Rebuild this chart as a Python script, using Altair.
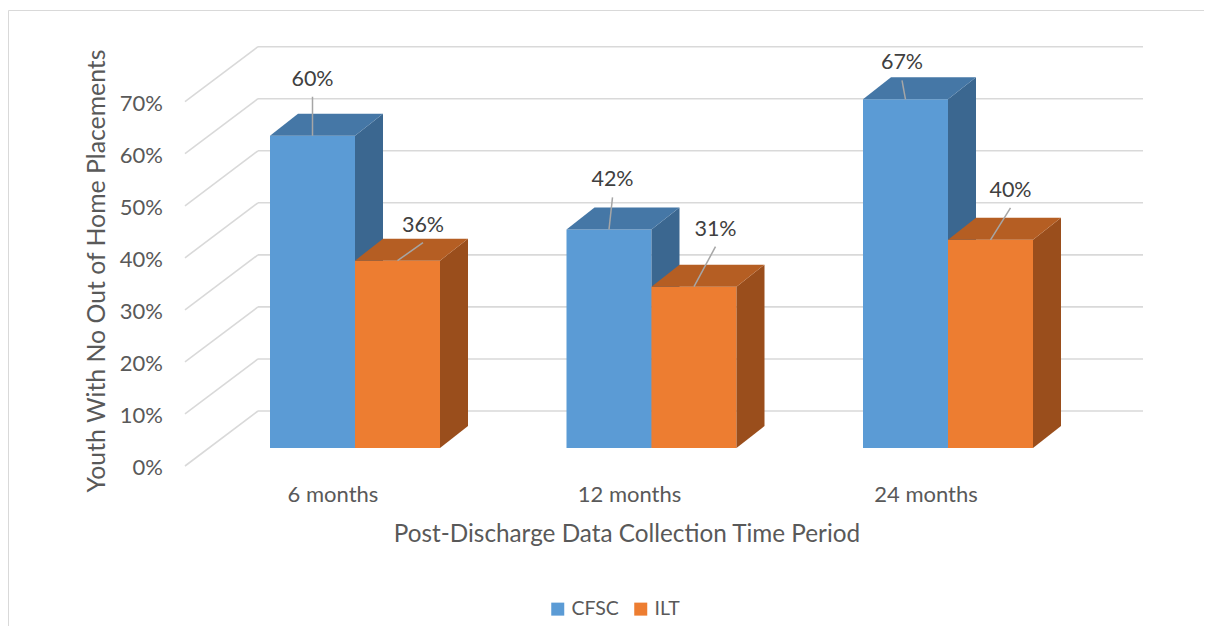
import altair as alt
import pandas as pd

# ---------------- data ----------------
categories = ["6 months", "12 months", "24 months"]
series = ["CFSC", "ILT"]
cfsc_values = [60, 42, 67]
ilt_values = [36, 31, 40]
y_ticks = [0, 10, 20, 30, 40, 50, 60, 70]
y_tick_labels = ["0%", "10%", "20%", "30%", "40%", "50%", "60%", "70%"]
x_title = "Post-Discharge Data Collection Time Period"
y_title = "Youth With No Out of Home Placements"

# ---------------- layout (pseudo-3D geometry) ----------------
W, H = 958, 420
PAD = {"left": 177, "top": 38, "right": 61, "bottom": 160}
PX_X = 296.5            # px per category step
Y_TOP = 80.7
PX_Y = H / Y_TOP        # px per percent
X0 = -170 / PX_X
X1 = X0 + W / PX_X
FLOOR_DX = 73 / PX_X
FLOOR_DY = 55 / PX_Y
BAR_Y0 = 18 / PX_Y
BAR_W = 85 / PX_X
BAR_DX = 28 / PX_X
BAR_DY = 22 / PX_Y
# label offsets in px (right, up) relative to top-front-centre of each bar
label_offsets = [(0, 56), (25.5, 35), (3.5, 49), (21.5, 57), (-3.5, 36), (20, 49)]

front_col = {"CFSC": "#5B9BD5", "ILT": "#ED7D31"}
top_col = {"CFSC": "#4577A6", "ILT": "#B55E23"}
side_col = {"CFSC": "#3B6790", "ILT": "#9A4E1C"}
GRID = "#D9D9D9"
TXT = "#595959"
FONT = "Lato"

xs = alt.Scale(domain=[X0, X1], nice=False, zero=False)
ys = alt.Scale(domain=[0, Y_TOP], nice=False, zero=False)

# ---------------- gridlines ----------------
grid_rows = []
for t in y_ticks:
    grid_rows.append({"x": X0, "x2": X0 + FLOOR_DX, "y": t, "y2": t + FLOOR_DY})
    grid_rows.append({"x": X0 + FLOOR_DX, "x2": X1, "y": t + FLOOR_DY, "y2": t + FLOOR_DY})
grid = alt.Chart(pd.DataFrame(grid_rows)).mark_rule(color=GRID, strokeWidth=1.6).encode(
    x=alt.X("x:Q", scale=xs, axis=None), x2="x2:Q",
    y=alt.Y("y:Q", scale=ys, axis=None), y2="y2:Q")

# ---------------- bars ----------------
values = {"CFSC": cfsc_values, "ILT": ilt_values}
layers = [grid]
label_rows = []
for si, s in enumerate(series):
    fronts, faces = [], []
    for i, cat in enumerate(categories):
        v = values[s][i]
        L = i - BAR_W if s == "CFSC" else i
        R = L + BAR_W
        y0 = BAR_Y0
        yt = y0 + v
        fronts.append({"x": L, "x2": R, "y": y0, "y2": yt, "series": s, "cat": cat})
        fid = f"{i}_{s}"
        faces += [
            {"id": fid + "_side", "x": R, "y": y0, "y2": yt, "fill": side_col[s]},
            {"id": fid + "_side", "x": R + BAR_DX, "y": y0 + BAR_DY, "y2": yt + BAR_DY, "fill": side_col[s]},
        ]
        faces += [
            {"id": fid + "_top", "x": L, "y": yt, "y2": yt, "fill": top_col[s]},
            {"id": fid + "_top", "x": L + BAR_DX, "y": yt, "y2": yt + BAR_DY, "fill": top_col[s]},
            {"id": fid + "_top", "x": R, "y": yt, "y2": yt + BAR_DY, "fill": top_col[s]},
            {"id": fid + "_top", "x": R + BAR_DX, "y": yt + BAR_DY, "y2": yt + BAR_DY, "fill": top_col[s]},
        ]
    front = alt.Chart(pd.DataFrame(fronts)).mark_rect().encode(
        x=alt.X("x:Q", scale=xs, axis=None), x2="x2:Q",
        y=alt.Y("y:Q", scale=ys, axis=None), y2="y2:Q",
        color=alt.Color("series:N",
                        scale=alt.Scale(domain=series, range=[front_col[x] for x in series]),
                        legend=alt.Legend(title=None, orient="none", direction="horizontal",
                                          legendX=363, legendY=553, symbolType="square",
                                          symbolSize=169, symbolStrokeWidth=0,
                                          labelFontSize=19.5, labelFont=FONT, labelColor=TXT,
                                          columnPadding=12, labelOffset=4)))
    face = alt.Chart(pd.DataFrame(faces)).mark_area(interpolate="linear").encode(
        x=alt.X("x:Q", scale=xs, axis=None),
        y=alt.Y("y:Q", scale=ys, axis=None), y2="y2:Q",
        detail="id:N",
        color=alt.Color("fill:N", scale=None))
    layers += [front, face]

for i, cat in enumerate(categories):
    for s in series:
        v = values[s][i]
        L = i - BAR_W if s == "CFSC" else i
        ax = L + BAR_W / 2
        ay = BAR_Y0 + v
        ox, oy = label_offsets[len(label_rows)]
        lx = ax + ox / PX_X
        ly = ay + oy / PX_Y
        label_rows.append({"ax": ax, "ay": ay, "lx": lx, "ly": ly,
                           "ly0": ly - 17 / PX_Y, "text": f"{v}%"})

lab_df = pd.DataFrame(label_rows)
leaders = alt.Chart(lab_df).mark_rule(color="#A6A6A6", strokeWidth=1.5).encode(
    x=alt.X("lx:Q", scale=xs, axis=None), x2="ax:Q",
    y=alt.Y("ly0:Q", scale=ys, axis=None), y2="ay:Q")
labels = alt.Chart(lab_df).mark_text(font=FONT, fontSize=21.5, color="#404040",
                                     baseline="middle").encode(
    x=alt.X("lx:Q", scale=xs, axis=None),
    y=alt.Y("ly:Q", scale=ys, axis=None), text="text:N")

tick_df = pd.DataFrame({"x": [X0] * len(y_ticks), "y": y_ticks, "text": y_tick_labels})
yticks = alt.Chart(tick_df).mark_text(font=FONT, fontSize=22, color=TXT, align="right",
                                      baseline="middle", dx=-22, dy=2).encode(
    x=alt.X("x:Q", scale=xs, axis=None),
    y=alt.Y("y:Q", scale=ys, axis=None), text="text:N")

cat_df = pd.DataFrame({"x": [i - 22 / PX_X for i in range(len(categories))],
                       "y": [0] * len(categories), "text": categories})
xticks = alt.Chart(cat_df).mark_text(font=FONT, fontSize=22, color=TXT, align="center",
                                     baseline="middle", dy=29).encode(
    x=alt.X("x:Q", scale=xs, axis=None),
    y=alt.Y("y:Q", scale=ys, axis=None), text="text:N")

xt = alt.Chart(pd.DataFrame({"t": [x_title]})).mark_text(
    font=FONT, fontSize=24.3, color=TXT, baseline="middle").encode(
    text="t:N", x=alt.value(442), y=alt.value(489))
yt_ = alt.Chart(pd.DataFrame({"t": [y_title]})).mark_text(
    font=FONT, fontSize=24.8, color=TXT, baseline="middle", angle=270).encode(
    text="t:N", x=alt.value(-87), y=alt.value(225))

# outer frame (only top and left edges fall inside the picture)
frame_top = alt.Chart(pd.DataFrame({"a": [0]})).mark_rule(
    color="#D9D9D9", strokeWidth=1, strokeCap="butt").encode(
    x=alt.value(-176.5), x2=alt.value(W + PAD["right"]), y=alt.value(-35.5))
frame_left = alt.Chart(pd.DataFrame({"a": [0]})).mark_rule(
    color="#D9D9D9", strokeWidth=1, strokeCap="butt").encode(
    x=alt.value(-176.5), y=alt.value(-35.5), y2=alt.value(H + PAD["bottom"]))

layers += [leaders, labels, yticks, xticks, xt, yt_, frame_top, frame_left]

chart = alt.layer(*layers).properties(
    width=W, height=H,
    autosize=alt.AutoSizeParams(type="none"),
    padding=PAD,
).configure(font=FONT, background="#FFFFFF").configure_view(stroke="transparent", strokeWidth=0)

chart.save("out.html", embed_options={"renderer": "svg", "actions": False})
